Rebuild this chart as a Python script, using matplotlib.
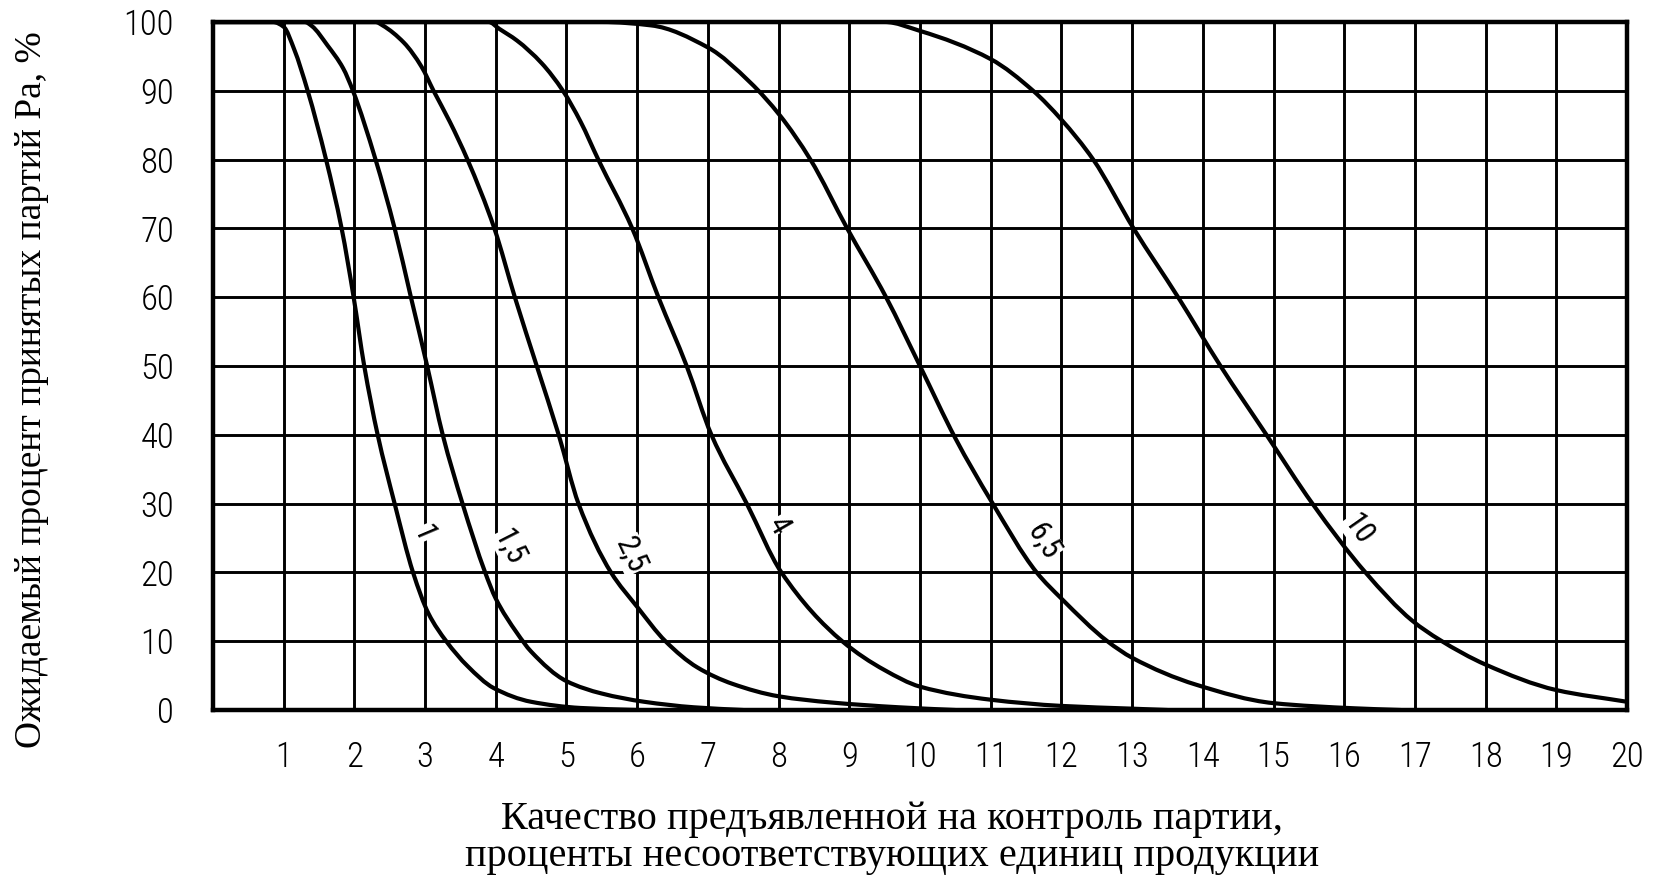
import matplotlib
matplotlib.use('Agg')
import numpy as np
import matplotlib.pyplot as plt
from matplotlib import font_manager
from matplotlib.path import Path
from matplotlib.patches import PathPatch

# кривые оперативных характеристик (читаются с рисунка)
x_1 = [0, 0.85, 1.0, 1.15, 1.34, 1.6, 1.82, 1.99, 2.14, 2.33, 2.57, 2.83, 3.05, 3.3, 3.6, 3.97, 4.5, 5.2, 6.0]
y_1 = [100, 100, 99.3, 96, 90, 80, 70, 60, 50, 40, 30, 20, 14, 10, 6.4, 3.2, 1.2, 0.3, 0]

x_15 = [0, 1.3, 1.4, 1.62, 1.84, 1.98, 2.3, 2.57, 2.8, 3.03, 3.25, 3.53, 3.85, 4.0, 4.3, 4.5, 5.0, 5.5, 6.1, 6.8, 7.5]
y_15 = [100, 100, 99.4, 96.6, 93.3, 90, 80, 70, 60, 50, 40, 30, 20, 16.2, 11.2, 8.5, 4.2, 2.4, 1.2, 0.4, 0]

x_25 = [0, 2.3, 2.4, 2.7, 2.95, 3.12, 3.35, 3.6, 3.98, 4.27, 4.58, 4.89, 5.17, 5.63, 6.0, 6.4, 6.85, 7.35, 8.0, 8.74, 9.7, 10.5]
y_25 = [100, 100, 99.5, 97, 93.5, 90, 85.5, 80, 70, 60, 50, 40, 30, 20, 15, 10, 6.2, 3.8, 2.0, 1.1, 0.4, 0]

x_4 = [0, 3.9, 4.05, 4.3, 4.65, 4.95, 5.2, 5.45, 5.93, 6.3, 6.7, 7.05, 7.55, 8.04, 8.9, 9.5, 10.0, 11.0, 12.0, 13.0, 13.5]
y_4 = [100, 100, 99, 97.3, 94, 90, 85.5, 80, 70, 60, 50, 40, 30, 20, 10, 5.8, 3.4, 1.5, 0.6, 0.2, 0]

x_65 = [0, 5.5, 6.2, 7.0, 7.6, 8.02, 8.45, 8.97, 9.52, 10.0, 10.5, 11.0, 11.65, 12.0, 12.65, 13.0, 13.9, 15.0, 16.15, 16.8]
y_65 = [100, 100, 99.5, 96.3, 91.2, 86.4, 80, 70, 60, 50, 39.5, 30.5, 20, 16.2, 10, 7.6, 3.7, 1.0, 0.25, 0]

x_10 = [0, 9.5, 10.0, 11.0, 11.6, 12.0, 12.45, 13.02, 13.65, 14.25, 14.9, 15.55, 16.3, 16.96, 17.35, 18.0, 19.0, 20.0]
y_10 = [100, 100, 98.7, 94.6, 90, 85.8, 80, 70, 60, 50, 40, 30, 20, 13, 10.2, 6.6, 2.9, 1.2]

curves = [(x_1, y_1), (x_15, y_15), (x_25, y_25), (x_4, y_4), (x_65, y_65), (x_10, y_10)]

# подписи кривых: текст, x, y, угол
curve_labels = ['1', '1,5', '2,5', '4', '6,5', '10']
label_x = [2.98, 4.2, 5.92, 8.0, 11.75, 16.2]
label_y = [25.7, 23.7, 22.6, 26.9, 24.6, 26.3]
label_rot = [-67, -63, -65, -60, -58, -55]

x_ticks = list(range(0, 21))
x_ticklabels = [''] + [str(i) for i in range(1, 21)]
y_ticks = list(range(0, 101, 10))


def smooth_path(xs, ys):
    # монотонные кубические сегменты (как PCHIP), отрисованные кривыми Безье
    x = np.asarray(xs, float)
    y = np.asarray(ys, float)
    h = np.diff(x)
    d = np.diff(y) / h
    m = np.zeros_like(x)
    m[0], m[-1] = d[0], d[-1]
    for k in range(1, len(x) - 1):
        if d[k - 1] * d[k] > 0:
            w1 = 2 * h[k] + h[k - 1]
            w2 = h[k] + 2 * h[k - 1]
            m[k] = (w1 + w2) / (w1 / d[k - 1] + w2 / d[k])
    verts = [(x[0], y[0])]
    codes = [Path.MOVETO]
    for k in range(len(x) - 1):
        verts += [(x[k] + h[k] / 3, y[k] + m[k] * h[k] / 3),
                  (x[k + 1] - h[k] / 3, y[k + 1] - m[k + 1] * h[k] / 3),
                  (x[k + 1], y[k + 1])]
        codes += [Path.CURVE4] * 3
    return Path(verts, codes)


available = {f.name for f in font_manager.fontManager.ttflist}
num_family = 'DejaVu Sans'
for cand in ['Liberation Sans Narrow', 'Roboto Condensed', 'Open Sans Condensed', 'Roboto']:
    if cand in available:
        num_family = cand
        break
num_font = font_manager.FontProperties(family=num_family, weight='light', size=25)

fig = plt.figure(figsize=(16.7, 8.86), dpi=100)
ax = fig.add_axes([0.1275, 0.1986, 0.8468, 0.7766])

for xs, ys in curves:
    ax.add_patch(PathPatch(smooth_path(xs, ys), facecolor='none', edgecolor='black',
                           linewidth=3.0, capstyle='round', joinstyle='round', zorder=3))

for txt, lx, ly, rot in zip(curve_labels, label_x, label_y, label_rot):
    ax.text(lx, ly, txt, rotation=rot, ha='center', va='center',
            fontsize=22, family=num_family, color='black', zorder=4,
            bbox=dict(facecolor='white', edgecolor='none', pad=0.3))

ax.set_xlim(0, 20)
ax.set_ylim(0, 100)
ax.set_xticks(x_ticks)
ax.set_xticklabels(x_ticklabels)
ax.set_yticks(y_ticks)
ax.set_yticklabels([str(v) for v in y_ticks])
ax.grid(True, color='black', linewidth=2.1)
ax.set_axisbelow(True)
ax.tick_params(length=0)
ax.tick_params(axis='x', pad=22)
ax.tick_params(axis='y', pad=28)
for lab in ax.get_xticklabels() + ax.get_yticklabels():
    lab.set_fontproperties(num_font)
for sp in ax.spines.values():
    sp.set_linewidth(3.2)

fig.text(0.019, 0.56, 'Ожидаемый процент принятых партий Pa, %', rotation=90,
         ha='center', va='center', fontsize=27, family='Liberation Serif')
fig.text(0.534, 0.075, 'Качество предъявленной на контроль партии,',
         ha='center', va='center', fontsize=29, family='Liberation Serif')
fig.text(0.534, 0.033, 'проценты несоответствующих единиц продукции',
         ha='center', va='center', fontsize=29, family='Liberation Serif')

plt.savefig('out.png', dpi=100)
